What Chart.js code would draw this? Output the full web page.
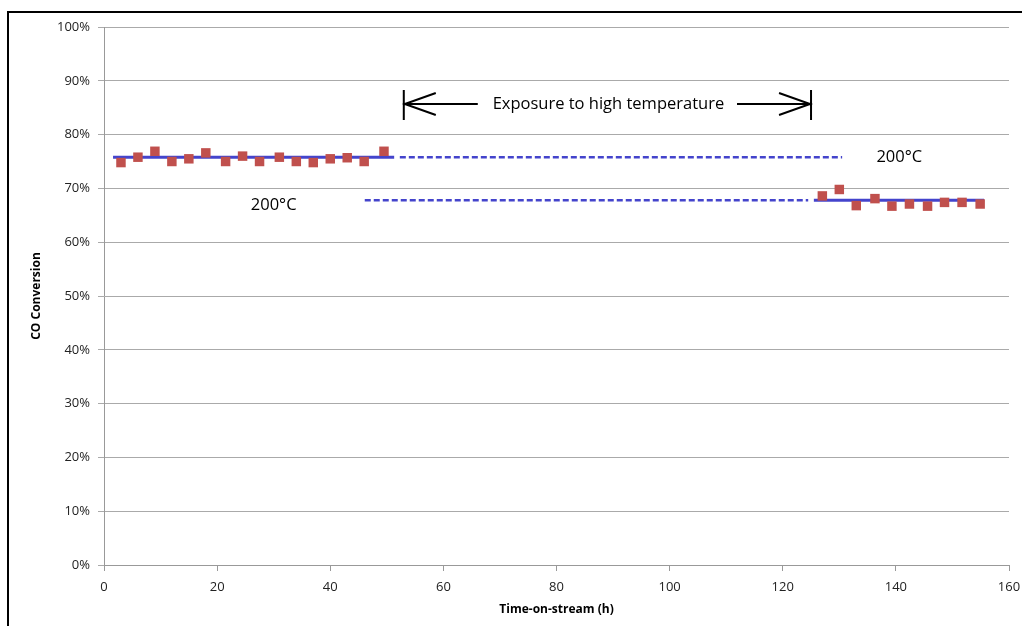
<!DOCTYPE html>
<html>
<head>
<meta charset="utf-8">
<script src="https://cdn.jsdelivr.net/npm/chart.js@4"></script>
<style>
  html, body { margin: 0; padding: 0; background: #fff; }
  #wrap { width: 1022px; height: 626px; position: relative; }
</style>
</head>
<body>
<div id="wrap"><canvas id="coChart"></canvas></div>
<script>
// Data
const timeBefore = [3, 6, 9, 12, 15, 18, 21.5, 24.5, 27.5, 31, 34, 37, 40, 43, 46, 49.5];
const convBefore = [74.8, 75.8, 76.9, 75.0, 75.5, 76.6, 75.0, 76.0, 75.0, 75.8, 75.0, 74.8, 75.5, 75.7, 75.0, 76.9];
const timeAfter = [127, 130, 133, 136.3, 139.3, 142.4, 145.6, 148.6, 151.7, 154.9];
const convAfter = [68.6, 69.8, 66.8, 68.1, 66.7, 67.1, 66.7, 67.4, 67.4, 67.1];

// average lines (solid) and their dashed extensions
const avgBefore = 75.8;
const avgAfter = 67.8;
const solidBeforeX = [1.6, 51.3];
const solidAfterX = [125.5, 155.6];
const dashBeforeX = [52.3, 130.5];
const dashAfterX = [46.1, 124.5];

// x range of the exposure arrow
const exposureX = [53, 125];

const yTicks = [0, 10, 20, 30, 40, 50, 60, 70, 80, 90, 100];

const RED = '#c0504d';
const BLUE = '#4444cc';

function toPoints(xs, ys) {
    return xs.map((x, i) => ({ x: x, y: ys[i] }));
}

function flatLine(xs, y) {
    return xs.map(x => ({ x: x, y: y }));
}

// frame, arrow and labels
const extrasPlugin = {
    id: 'extras',
    afterDraw(chart) {
        const c = chart.ctx;
        const xs = chart.scales.x;
        const ys = chart.scales.y;

        c.save();
        // outer frame (left and top only are visible)
        c.strokeStyle = '#000';
        c.lineWidth = 2;
        c.beginPath();
        c.moveTo(8, 626);
        c.lineTo(8, 12);
        c.lineTo(1022, 12);
        c.stroke();

        // exposure arrow
        const x1 = xs.getPixelForValue(exposureX[0]);
        const x2 = xs.getPixelForValue(exposureX[1]);
        const yMid = ys.getPixelForValue(85.7);
        const yTop = ys.getPixelForValue(88.3);
        const yBot = ys.getPixelForValue(82.7);
        c.strokeStyle = '#000';
        c.lineWidth = 2;
        c.beginPath();
        c.moveTo(x1, yTop); c.lineTo(x1, yBot);
        c.moveTo(x2, yTop); c.lineTo(x2, yBot);
        // left arrow
        c.moveTo(x1, yMid); c.lineTo(x1 + 74, yMid);
        c.moveTo(x1 + 32, yMid - 11); c.lineTo(x1 + 1, yMid); c.lineTo(x1 + 32, yMid + 11);
        // right arrow
        c.moveTo(x2 - 74, yMid); c.lineTo(x2, yMid);
        c.moveTo(x2 - 32, yMid - 11); c.lineTo(x2 - 1, yMid); c.lineTo(x2 - 32, yMid + 11);
        c.stroke();

        c.fillStyle = '#000';
        c.font = '16.5px "Open Sans", sans-serif';
        c.textAlign = 'center';
        c.textBaseline = 'middle';
        c.fillText('Exposure to high temperature', (x1 + x2) / 2 + 1, yMid);

        c.fillText('200°C', xs.getPixelForValue(140.6), ys.getPixelForValue(75.8));
        c.fillText('200°C', xs.getPixelForValue(30.0), ys.getPixelForValue(66.9));
        c.restore();
    }
};

const ctx = document.getElementById('coChart').getContext('2d');
new Chart(ctx, {
    type: 'scatter',
    data: {
        datasets: [
            {
                label: 'dash before',
                data: flatLine(dashBeforeX, avgBefore),
                showLine: true,
                borderColor: BLUE,
                borderWidth: 2.5,
                borderDash: [6, 3],
                pointRadius: 0
            },
            {
                label: 'dash after',
                data: flatLine(dashAfterX, avgAfter),
                showLine: true,
                borderColor: BLUE,
                borderWidth: 2.5,
                borderDash: [6, 3],
                pointRadius: 0
            },
            {
                label: 'before',
                data: toPoints(timeBefore, convBefore),
                pointStyle: 'rect',
                pointRadius: 6.7,
                backgroundColor: RED,
                borderColor: RED,
                borderWidth: 0
            },
            {
                label: 'after',
                data: toPoints(timeAfter, convAfter),
                pointStyle: 'rect',
                pointRadius: 6.7,
                backgroundColor: RED,
                borderColor: RED,
                borderWidth: 0
            },
            {
                label: 'avg before',
                data: flatLine(solidBeforeX, avgBefore),
                showLine: true,
                borderColor: BLUE,
                borderWidth: 3,
                pointRadius: 0
            },
            {
                label: 'avg after',
                data: flatLine(solidAfterX, avgAfter),
                showLine: true,
                borderColor: BLUE,
                borderWidth: 3,
                pointRadius: 0
            }
        ]
    },
    options: {
        responsive: true,
        maintainAspectRatio: false,
        animation: false,
        layout: { padding: { top: 27, right: 13, left: 29, bottom: 5 } },
        plugins: {
            legend: { display: false },
            tooltip: { enabled: false }
        },
        scales: {
            x: {
                type: 'linear',
                min: 0,
                max: 160,
                afterFit: s => {
                    s.height = 56;
                    s.paddingLeft = 0;
                    s.paddingRight = 0;
                },
                ticks: {
                    stepSize: 20,
                    color: '#222',
                    padding: 8,
                    font: { family: '"Open Sans", sans-serif', size: 13 }
                },
                grid: {
                    display: true,
                    drawOnChartArea: false,
                    color: '#999',
                    tickLength: 6
                },
                border: { color: '#999', width: 1 },
                title: {
                    display: true,
                    text: 'Time-on-stream (h)',
                    color: '#000',
                    padding: { top: 0 },
                    font: { family: '"Open Sans", sans-serif', size: 12, weight: 'bold' }
                }
            },
            y: {
                min: 0,
                max: 100,
                afterFit: s => {
                    s.width = 75;
                    s.paddingTop = 0;
                    s.paddingBottom = 0;
                },
                afterBuildTicks: s => { s.ticks = yTicks.map(v => ({ value: v })); },
                ticks: {
                    color: '#222',
                    padding: 8,
                    font: { family: '"Open Sans", sans-serif', size: 13 },
                    callback: v => v + '%'
                },
                grid: {
                    color: '#aaa',
                    tickLength: 6
                },
                border: { color: '#999', width: 1 },
                title: {
                    display: true,
                    text: 'CO Conversion',
                    color: '#000',
                    padding: 0,
                    font: { family: '"Open Sans", sans-serif', size: 12, weight: 'bold' }
                }
            }
        }
    },
    plugins: [extrasPlugin]
});
</script>
</body>
</html>
